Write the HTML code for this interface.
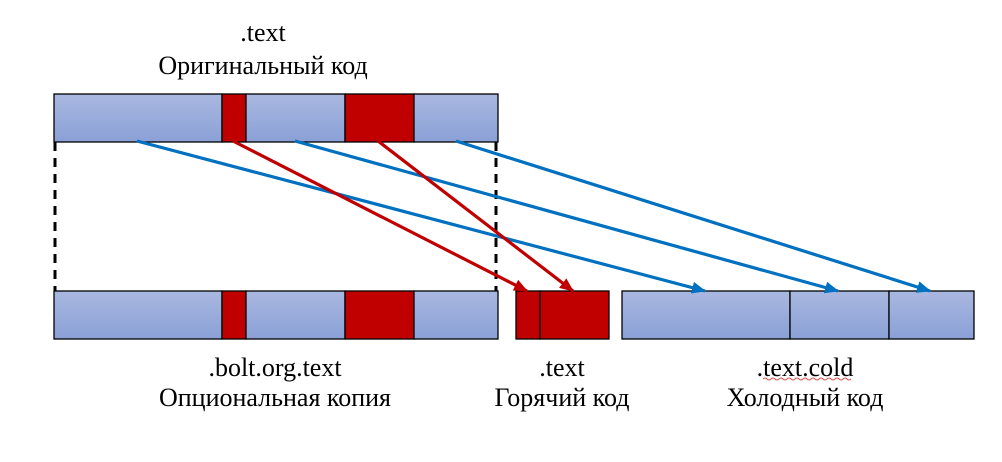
<!DOCTYPE html>
<html><head><meta charset="utf-8"><style>
body{margin:0;background:#fff;width:1002px;height:457px;overflow:hidden}
</style></head><body>
<svg width="1002" height="457" viewBox="0 0 1002 457" xmlns="http://www.w3.org/2000/svg">
<defs>
<linearGradient id="g" x1="0" y1="0" x2="0" y2="1"><stop offset="0" stop-color="#a9b8e0"/><stop offset="1" stop-color="#8aa0d6"/></linearGradient>
<marker id="abL" markerWidth="14" markerHeight="12" refX="13" refY="6" orient="auto" markerUnits="userSpaceOnUse"><path d="M0,0 L14,6 L0,12 z" fill="#0070c0"/></marker>
<marker id="arL" markerWidth="14" markerHeight="12" refX="13" refY="6" orient="auto" markerUnits="userSpaceOnUse"><path d="M0,0 L14,6 L0,12 z" fill="#c00000"/></marker>
</defs>
<g stroke="#000" stroke-width="1.3">
<rect x="54" y="94" width="168" height="48" fill="url(#g)"/>
<rect x="222" y="94" width="24" height="48" fill="#c00000"/>
<rect x="246" y="94" width="99" height="48" fill="url(#g)"/>
<rect x="345" y="94" width="69" height="48" fill="#c00000"/>
<rect x="414" y="94" width="84" height="48" fill="url(#g)"/>
<rect x="54" y="291" width="168" height="48" fill="url(#g)"/>
<rect x="222" y="291" width="24" height="48" fill="#c00000"/>
<rect x="246" y="291" width="99" height="48" fill="url(#g)"/>
<rect x="345" y="291" width="69" height="48" fill="#c00000"/>
<rect x="414" y="291" width="84" height="48" fill="url(#g)"/>
<rect x="516" y="291" width="24" height="48" fill="#c00000"/>
<rect x="540" y="291" width="69" height="48" fill="#c00000"/>
<rect x="622" y="291" width="168" height="48" fill="url(#g)"/>
<rect x="790" y="291" width="99" height="48" fill="url(#g)"/>
<rect x="889" y="291" width="85" height="48" fill="url(#g)"/>
</g>
<g stroke="#000" stroke-width="3" stroke-dasharray="9,7">
<line x1="55" y1="142" x2="55" y2="291"/>
<line x1="496" y1="142" x2="496" y2="291"/>
</g>
<g stroke-width="3.2" fill="none">
<line x1="137" y1="141" x2="705" y2="291" stroke="#0070c0" marker-end="url(#abL)"/>
<line x1="295" y1="141" x2="838" y2="291" stroke="#0070c0" marker-end="url(#abL)"/>
<line x1="456" y1="141" x2="930" y2="291" stroke="#0070c0" marker-end="url(#abL)"/>
<line x1="233" y1="141" x2="527" y2="291" stroke="#c00000" marker-end="url(#arL)"/>
<line x1="378" y1="141" x2="573" y2="291" stroke="#c00000" marker-end="url(#arL)"/>
</g>
<g font-family="Liberation Serif, serif" font-size="26" fill="#000" text-anchor="middle">
<text x="263" y="41">.text</text>
<text x="263" y="74">Оригинальный код</text>
<text x="275" y="376">.bolt.org.text</text>
<text x="275" y="406">Опциональная копия</text>
<text x="562" y="376">.text</text>
<text x="562" y="406">Горячий код</text>
<text x="805" y="376">.text.cold</text>
<text x="805" y="406">Холодный код</text>
</g>
<path d="M763,379 q2,-2 4,0 t4,0 t4,0 t4,0 t4,0 t4,0 t4,0 t4,0 t4,0 t4,0 t4,0 t4,0 t4,0 t4,0 t4,0 t4,0 t4,0 t4,0 t4,0 t4,0 t4,0 t4,0" stroke="#e05050" stroke-width="1" fill="none"/>
</svg>
</body></html>
